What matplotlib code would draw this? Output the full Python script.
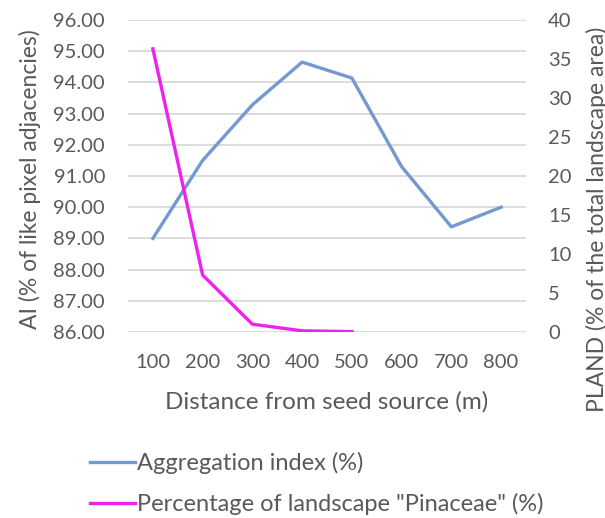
import matplotlib.pyplot as plt
import numpy as np

# data
distance = ['100', '200', '300', '400', '500', '600', '700', '800']
ai = [89.0, 91.5, 93.28, 94.65, 94.14, 91.3, 89.37, 90.0]
pland = [36.3, 7.3, 1.0, 0.15, 0.05]

ai_ticks = np.arange(86, 97, 1)
pland_ticks = np.arange(0, 41, 5)

text_grey = '#595959'
plt.rcParams['font.family'] = ['Lato', 'DejaVu Sans']

fig = plt.figure(figsize=(6.05, 5.18), dpi=100)
ax = fig.add_axes([128 / 605, 1 - 332 / 518, 398 / 605, 312 / 518])
ax2 = ax.twinx()

x = np.arange(len(distance))
l1, = ax.plot(x, ai, color='#7399d0', lw=2.4, label='Aggregation index (%)')
l2, = ax2.plot(x[:len(pland)], pland, color='#ee22ee', lw=2.4,
               label='Percentage of landscape "Pinaceae" (%)')

ax.set_xlim(-0.5, 7.5)
ax.set_ylim(86, 96)
ax2.set_ylim(0, 40)
ax.set_yticks(ai_ticks)
ax.set_yticklabels(['%.2f' % v for v in ai_ticks])
ax2.set_yticks(pland_ticks)
ax.set_xticks(x)
ax.set_xticklabels(distance)
ax.grid(axis='y', color='#d9d9d9', lw=1.3)
ax.set_axisbelow(True)

for a in (ax, ax2):
    for s in a.spines.values():
        s.set_visible(False)
    a.tick_params(length=0, colors=text_grey, labelsize=14.5)
ax.tick_params(axis='y', pad=16.5)
ax.tick_params(axis='x', pad=16)
ax2.tick_params(axis='y', pad=16)

ax.set_xlabel('Distance from seed source (m)', color=text_grey, fontsize=17.5)
ax.set_ylabel('AI (% of like pixel adjacencies)', color=text_grey, fontsize=16.5)
ax2.set_ylabel('PLAND (% of the total landscape area)', color=text_grey, fontsize=16.5,
               rotation=90)
# label centres in pixels
ax.xaxis.set_label_coords(327 / 605, 1 - 402 / 518, transform=fig.transFigure)
ax.yaxis.set_label_coords(30 / 605, 1 - 179 / 518, transform=fig.transFigure)
ax2.yaxis.set_label_coords(597 / 605, 1 - 219 / 518, transform=fig.transFigure)
ax.xaxis.label.set_va('center')
ax.yaxis.label.set_va('center')
ax2.yaxis.label.set_va('center')

leg = fig.legend(handles=[l1, l2], loc='upper left', bbox_to_anchor=(90 / 605, 0.127),
                 frameon=False, handlelength=1.9, handletextpad=0.1,
                 labelspacing=0.8, fontsize=17, borderaxespad=0, borderpad=0)
for t in leg.get_texts():
    t.set_color(text_grey)

fig.savefig('out.png', dpi=100)
